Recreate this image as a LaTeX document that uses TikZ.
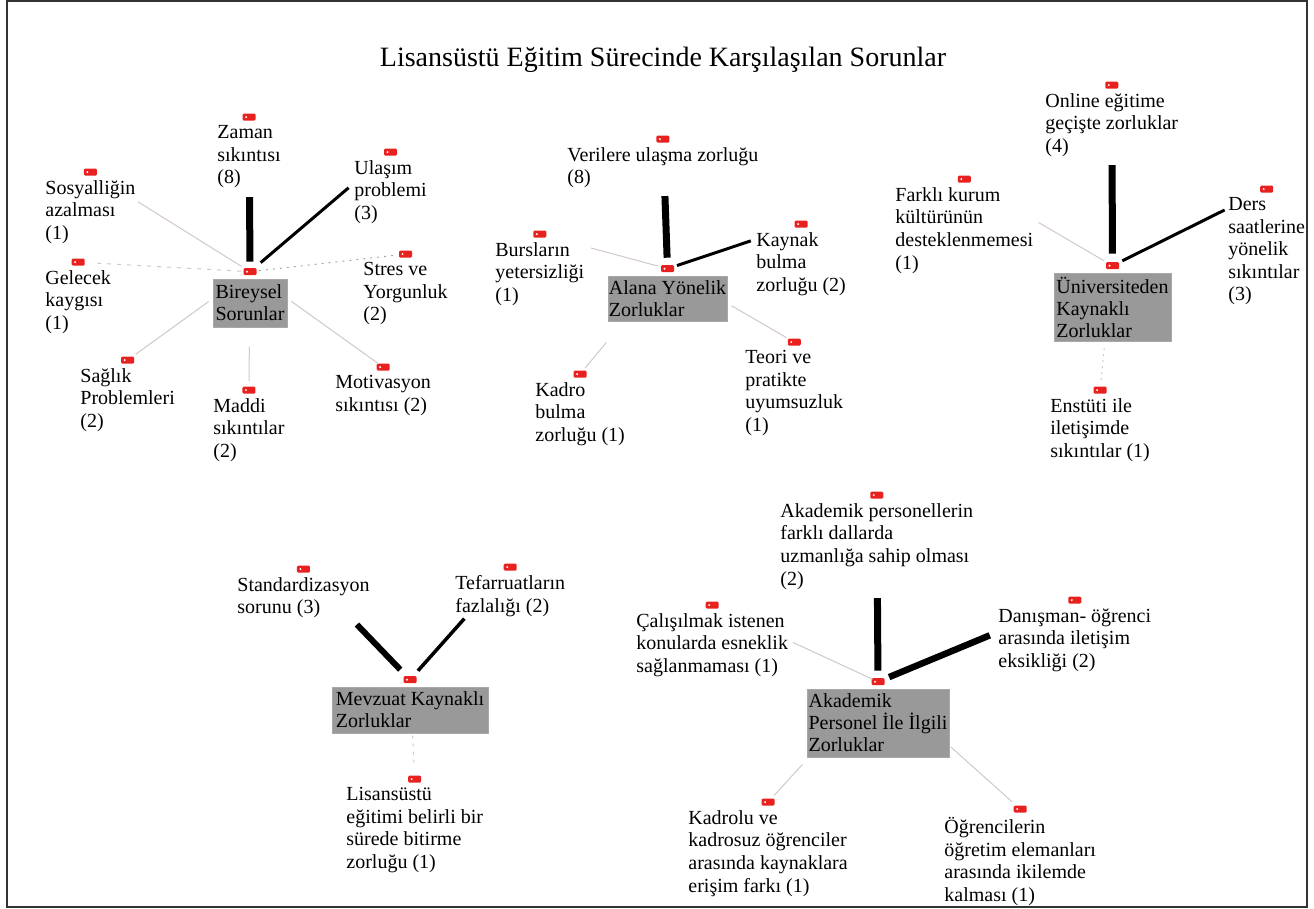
\documentclass[tikz,border=0pt]{standalone}
\usepackage{fontspec}
\setmainfont{Liberation Serif}
\usetikzlibrary{positioning}
\newlength{\du}
\setlength{\du}{0.5pt}
\definecolor{tagcolor}{rgb}{0.910000, 0.130000, 0.120000}
\definecolor{boxcolor}{rgb}{0.600000, 0.600000, 0.600000}
\definecolor{linkcolor}{rgb}{0.820000, 0.780000, 0.790000}
\definecolor{framecolor}{rgb}{0.200000, 0.200000, 0.200000}
\tikzset{
  tag/.style={rectangle, rounded corners=1.2\du, fill=tagcolor, minimum width=13\du,
    minimum height=7\du, inner sep=0pt,
    path picture={\fill[white] ([xshift=3.5\du]path picture bounding box.west) circle (1.1\du);}},
  code/.style={anchor=north west, inner sep=0pt, align=left,
    font=\fontsize{10}{11.3}\selectfont, execute at begin node=\strut},
  category/.style={fill=boxcolor, draw=boxcolor!85, inner sep=0pt, align=left,
    font=\fontsize{10}{11}\selectfont},
  link/.style={linkcolor, line width=1\du},
  link3/.style={black, line width=3\du},
  link8/.style={black, line width=7\du},
}
\begin{document}
\begin{tikzpicture}[x=0.5pt, y=-0.5pt]
\useasboundingbox (0,0) rectangle (1314,909);
\draw[framecolor, line width=2\du] (7,1) rectangle (1307,907);
\node[font=\fontsize{14}{16}\selectfont] (title) at (663,60) {Lisansüstü Eğitim Sürecinde Karşılaşılan Sorunlar};

% Bireysel Sorunlar
\node[category, minimum width=74\du, minimum height=48\du] (bireysel) at (250,303) {Bireysel\\Sorunlar};
\node[tag, above=1.5pt of bireysel] (tag-bireysel) {};
\node[code] (zaman) at (217,125) {Zaman\\sıkıntısı\\(8)};
\node[code] (ulasim) at (354,160) {Ulaşım\\problemi\\(3)};
\node[code] (sosyal) at (45,180) {Sosyalliğin\\azalması\\(1)};
\node[code] (gelecek) at (45,270) {Gelecek\\kaygısı\\(1)};
\node[code] (stres) at (363,262) {Stres ve\\Yorgunluk\\(2)};
\node[code] (saglik) at (80,368) {Sağlık\\Problemleri\\(2)};
\node[code] (maddi) at (213,398) {Maddi\\sıkıntılar\\(2)};
\node[code] (motivasyon) at (335,375) {Motivasyon\\sıkıntısı (2)};
\node[tag, above=2pt of zaman] (tag-zaman) {};
\node[tag, above=2pt of ulasim] (tag-ulasim) {};
\node[tag, above=2pt of sosyal] (tag-sosyal) {};
\node[tag, above=2pt of gelecek] (tag-gelecek) {};
\node[tag, above=2pt of stres] (tag-stres) {};
\node[tag, above=2pt of saglik] (tag-saglik) {};
\node[tag, above=2pt of maddi] (tag-maddi) {};
\node[tag, above=2pt of motivasyon] (tag-motivasyon) {};
\draw[link8, shorten <=10\du, shorten >=80\du] (tag-bireysel.center) -- (tag-zaman.center);
\draw[link3, shorten <=14\du, shorten >=55\du] (tag-bireysel.center) -- (tag-ulasim.center);
\draw[link, shorten <=10\du, shorten >=56\du] (tag-bireysel.center) -- (tag-sosyal.center);
\draw[link, dash pattern=on 4\du off 6\du, shorten <=9\du, shorten >=19\du] (tag-bireysel.center) -- (tag-gelecek.center);
\draw[link, gray!70, dash pattern=on 2\du off 5\du, shorten <=9\du, shorten >=8\du] (tag-bireysel.center) -- (tag-stres.center);
\draw[link, shorten <=51\du, shorten >=10\du] (tag-bireysel.center) -- (tag-saglik.center);
\draw[link, shorten <=75\du, shorten >=9\du] (tag-bireysel.center) -- (tag-maddi.center);
\draw[link, shorten <=51\du, shorten >=7\du] (tag-bireysel.center) -- (tag-motivasyon.center);

% Alana Yonelik Zorluklar
\node[category, minimum width=119\du, minimum height=45\du] (alana) at (667.5,298.5) {Alana Yönelik\\Zorluklar};
\node[tag, above=1.5pt of alana] (tag-alana) {};
\node[code] (verilere) at (567,147) {Verilere ulaşma zorluğu\\(8)};
\node[code] (kaynak) at (756,232) {Kaynak\\bulma\\zorluğu (2)};
\node[code] (burslar) at (495,242) {Bursların\\yetersizliği\\(1)};
\node[code] (kadro) at (535,382) {Kadro\\bulma\\zorluğu (1)};
\node[code] (teori) at (745,350) {Teori ve\\pratikte\\uyumsuzluk\\(1)};
\node[tag, above=2pt of verilere] (tag-verilere) {};
\node[tag, above=2pt of kaynak] (tag-kaynak) {};
\node[tag, above=2pt of burslar] (tag-burslar) {};
\node[tag, above=2pt of kadro] (tag-kadro) {};
\node[tag, above=2pt of teori] (tag-teori) {};
\draw[link8, shorten <=11\du, shorten >=57\du] (tag-alana.center) -- (tag-verilere.center);
\draw[link3, shorten <=10\du, shorten >=53\du] (tag-alana.center) -- (tag-kaynak.center);
\draw[link, shorten <=10\du, shorten >=53\du] (tag-alana.center) -- (tag-burslar.center);
\draw[link, shorten <=96\du, shorten >=8\du] (tag-alana.center) -- (tag-kadro.center);
\draw[link, shorten <=74\du, shorten >=9\du] (tag-alana.center) -- (tag-teori.center);

% Universiteden Kaynakli Zorluklar
\node[category, minimum width=117\du, minimum height=68\du] (universite) at (1112.5,307) {Üniversiteden\\Kaynaklı\\Zorluklar};
\node[tag, above=1.5pt of universite] (tag-universite) {};
\node[code] (online) at (1045,93) {Online eğitime\\geçişte zorluklar\\(4)};
\node[code] (ders) at (1228,197) {Ders\\saatlerine\\yönelik\\sıkıntılar\\(3)};
\node[code] (farkli) at (895,187) {Farklı kurum\\kültürünün\\desteklenmemesi\\(1)};
\node[code] (enstitu) at (1050,398) {Enstüti ile\\iletişimde\\sıkıntılar (1)};
\node[tag, above=2pt of online] (tag-online) {};
\node[tag, above=2pt of ders] (tag-ders) {};
\node[tag, above=2pt of farkli] (tag-farkli) {};
\node[tag, above=2pt of enstitu] (tag-enstitu) {};
\draw[link8, shorten <=12\du, shorten >=80\du] (tag-universite.center) -- (tag-online.center);
\draw[link3, shorten <=11\du, shorten >=47\du] (tag-universite.center) -- (tag-ders.center);
\draw[link, shorten <=10\du, shorten >=86\du] (tag-universite.center) -- (tag-farkli.center);
\draw[link, dash pattern=on 2\du off 4\du, shorten <=83\du, shorten >=8\du] (tag-universite.center) -- (tag-enstitu.center);

% Mevzuat Kaynakli Zorluklar
\node[category, minimum width=156\du, minimum height=46\du] (mevzuat) at (410,710) {Mevzuat Kaynaklı\\Zorluklar};
\node[tag, above=1.5pt of mevzuat] (tag-mevzuat) {};
\node[code] (standart) at (237,577) {Standardizasyon\\sorunu (3)};
\node[code] (tefer) at (455,575) {Tefarruatların\\fazlalığı (2)};
\node[code] (lisans) at (346,787) {Lisansüstü\\eğitimi belirli bir\\sürede bitirme\\zorluğu (1)};
\node[tag, above=2pt of standart] (tag-standart) {};
\node[tag, above=2pt of tefer] (tag-tefer) {};
\node[tag, above=2pt of lisans] (tag-lisans) {};
\draw[link8, line width=6\du, shorten <=14\du, shorten >=77\du] (tag-mevzuat.center) -- (tag-standart.center);
\draw[link3, line width=3.5\du, shorten <=12\du, shorten >=69\du] (tag-mevzuat.center) -- (tag-tefer.center);
\draw[link, dash pattern=on 3\du off 5\du, shorten <=56\du, shorten >=16\du] (tag-mevzuat.center) -- (tag-lisans.center);

% Akademik Personel Ile Ilgili Zorluklar
\node[category, minimum width=142\du, minimum height=68\du] (akademik) at (878,723) {Akademik\\Personel İle İlgili\\Zorluklar};
\node[tag, above=1.5pt of akademik] (tag-akademik) {};
\node[code] (uzman) at (780,503) {Akademik personellerin\\farklı dallarda\\uzmanlığa sahip olması\\(2)};
\node[code] (danisman) at (998,608) {Danışman- öğrenci\\arasında iletişim\\eksikliği (2)};
\node[code] (calisma) at (636,613) {Çalışılmak istenen\\konularda esneklik\\sağlanmaması (1)};
\node[code] (kadrolu) at (688,810) {Kadrolu ve\\kadrosuz öğrenciler\\arasında kaynaklara\\erişim farkı (1)};
\node[code] (ogrenci) at (944,817) {Öğrencilerin\\öğretim elemanları\\arasında ikilemde\\kalması (1)};
\node[tag, above=2pt of uzman] (tag-uzman) {};
\node[tag, above=2pt of danisman] (tag-danisman) {};
\node[tag, above=2pt of calisma] (tag-calisma) {};
\node[tag, above=2pt of kadrolu] (tag-kadrolu) {};
\node[tag, above=2pt of ogrenci] (tag-ogrenci) {};
\draw[link8, shorten <=11\du, shorten >=103\du] (tag-akademik.center) -- (tag-uzman.center);
\draw[link8, line width=6.5\du, shorten <=12\du, shorten >=92\du] (tag-akademik.center) -- (tag-danisman.center);
\draw[link, shorten <=6\du, shorten >=89\du] (tag-akademik.center) -- (tag-calisma.center);
\draw[link, shorten <=112\du, shorten >=9\du] (tag-akademik.center) -- (tag-kadrolu.center);
\draw[link, shorten <=98\du, shorten >=11\du] (tag-akademik.center) -- (tag-ogrenci.center);
\end{tikzpicture}
\end{document}
